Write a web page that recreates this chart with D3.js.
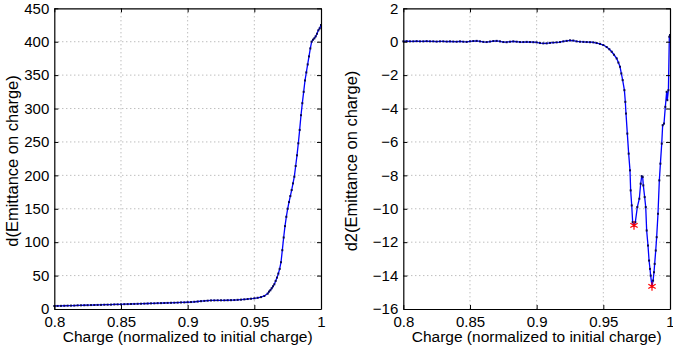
<!DOCTYPE html>
<html><head><meta charset="utf-8">
<script src="https://cdn.jsdelivr.net/npm/d3@7"></script>
<style>
html,body{margin:0;padding:0;background:#fff;}
svg{display:block;}
text{font-family:"Liberation Sans",Arial,Helvetica,sans-serif;fill:#000;}
</style></head>
<body>
<svg id="chart" width="673" height="347"></svg>
<script>
// ---------- DATA ----------
const xTicks = [0.8, 0.85, 0.9, 0.95, 1];
const xTickLabels = ["0.8", "0.85", "0.9", "0.95", "1"];
const leftYTicks = [0, 50, 100, 150, 200, 250, 300, 350, 400, 450];
const rightYTicks = [-16, -14, -12, -10, -8, -6, -4, -2, 0, 2];
const xLabel = "Charge (normalized to initial charge)";
const leftYLabel = "d(Emittance on charge)";
const rightYLabel = "d2(Emittance on charge)";

const leftCharge = [0.8,0.8025,0.805,0.8075,0.81,0.8125,0.815,0.8175,0.82,0.8225,0.825,0.8275,0.83,0.8325,0.835,0.8375,0.84,0.8425,0.845,0.8475,0.85,0.8525,0.855,0.8575,0.86,0.8625,0.865,0.8675,0.87,0.8725,0.875,0.8775,0.88,0.8825,0.885,0.8875,0.89,0.8925,0.895,0.8975,0.9,0.9025,0.905,0.9075,0.91,0.9125,0.915,0.9175,0.92,0.9225,0.925,0.9275,0.93,0.9325,0.935,0.9375,0.94,0.9425,0.945,0.9475,0.95,0.9525,0.955,0.9575,0.96,0.961,0.962,0.963,0.964,0.965,0.966,0.967,0.968,0.969,0.97,0.971,0.972,0.973,0.974,0.975,0.976,0.977,0.978,0.979,0.98,0.981,0.982,0.983,0.984,0.985,0.986,0.987,0.988,0.989,0.99,0.991,0.992,0.993,0.994,0.995,0.996,0.997,0.998,0.999,1.0];
const leftValue = [4.5,4.6,4.7,4.9,5.0,5.1,5.2,5.4,5.5,5.6,5.7,5.9,6.0,6.1,6.2,6.4,6.5,6.6,6.8,6.9,7.0,7.2,7.3,7.5,7.6,7.8,7.9,8.1,8.2,8.4,8.5,8.7,8.8,9.0,9.1,9.3,9.4,9.6,9.8,9.9,10.1,10.4,10.8,11.2,11.7,12.1,12.5,12.8,12.9,13.0,13.0,13.0,13.1,13.2,13.4,13.7,14.0,14.4,14.9,15.4,16.0,16.8,17.8,19.5,23,26,28,31,34,37,42,47,53,60,70,88,107,124,138,150,160,169,178,188,198,214,230,248,268,290,308,325,342,354,366,378,390,400,403,405,408,412,417,420,425];

const rightCharge = [0.8,0.8025,0.805,0.8075,0.81,0.8125,0.815,0.8175,0.82,0.8225,0.825,0.8275,0.83,0.8325,0.835,0.8375,0.84,0.8425,0.845,0.8475,0.85,0.8525,0.855,0.8575,0.86,0.8625,0.865,0.8675,0.87,0.8725,0.875,0.8775,0.88,0.8825,0.885,0.8875,0.89,0.8925,0.895,0.8975,0.9,0.9025,0.905,0.9075,0.91,0.9125,0.915,0.9175,0.92,0.9225,0.925,0.9275,0.93,0.9325,0.935,0.9375,0.94,0.9425,0.945,0.9475,0.95,0.9525,0.9545,0.9563,0.958,0.96,0.9613,0.9625,0.9635,0.9645,0.9658,0.9665,0.967,0.968,0.969,0.97,0.9705,0.9713,0.972,0.973,0.974,0.9755,0.977,0.978,0.9788,0.9795,0.98,0.981,0.9818,0.9825,0.9835,0.9843,0.985,0.9855,0.9865,0.9873,0.988,0.9885,0.9893,0.99,0.991,0.992,0.9928,0.9938,0.9945,0.9955,0.9965,0.9975,0.998,0.9988,0.9995,1.0];
const rightValue = [0.02,0.03,0.02,0.02,0.03,0.02,0.02,0.03,0.02,0.02,0.01,0.02,0.02,0.01,0.02,0.01,0.0,0.02,0.0,-0.01,0.02,0.04,0.05,0.02,-0.01,-0.02,0.01,0.04,0.05,0.02,-0.02,-0.03,0.0,0.02,0.0,-0.02,-0.02,-0.01,-0.02,-0.03,-0.04,-0.08,-0.1,-0.1,-0.07,-0.05,-0.04,-0.02,0.02,0.05,0.08,0.07,0.02,0.0,-0.01,-0.02,-0.03,-0.04,-0.08,-0.13,-0.2,-0.32,-0.45,-0.6,-0.78,-1.0,-1.25,-1.5,-1.9,-2.3,-2.9,-3.6,-4.3,-5.5,-6.7,-7.7,-8.9,-9.8,-10.8,-11.0,-10.8,-9.9,-9.4,-8.5,-8.05,-8.1,-8.6,-9.3,-9.9,-11.3,-12.2,-13.1,-13.6,-14.0,-14.65,-14.3,-13.8,-13.3,-12.5,-11.7,-10.3,-8.3,-7.3,-6.1,-5.0,-4.9,-3.9,-3.0,-3.5,-2.9,0.3,0.4];

const peakCharge = [0.973, 0.9865];
const peakValue = [-11.0, -14.65];

// ---------- DRAW ----------
const svg = d3.select("#chart");
const plotTop = 8.3, plotBottom = 309;

function panel(x0, x1, yDomain, yTicks, charge, value, ylab, ylabX) {
  const x = d3.scaleLinear().domain([0.8, 1]).range([x0, x1]);
  const y = d3.scaleLinear().domain(yDomain).range([plotBottom, plotTop]);
  const g = svg.append("g");

  // grid
  const grid = g.append("g").attr("stroke", "#8a8a8a").attr("stroke-width", 0.8).attr("stroke-dasharray", "1,3");
  xTicks.slice(1, -1).forEach(t => grid.append("line").attr("x1", x(t)).attr("x2", x(t)).attr("y1", plotTop).attr("y2", plotBottom));
  yTicks.slice(1, -1).forEach(t => grid.append("line").attr("x1", x0).attr("x2", x1).attr("y1", y(t)).attr("y2", y(t)));

  // data
  const line = d3.line().x((d, i) => x(charge[i])).y((d, i) => y(value[i]));
  g.append("path").datum(value).attr("d", line).attr("fill", "none").attr("stroke", "#0000ff").attr("stroke-width", 1.3);
  g.append("g").selectAll("rect").data(value).join("rect")
    .attr("x", (d, i) => x(charge[i]) - 1).attr("y", d => y(d) - 1)
    .attr("width", 2).attr("height", 2).attr("fill", "#0a0a50");

  // axes with inward ticks
  const tl = 4;
  const axB = d3.axisBottom(x).tickValues(xTicks).tickFormat((d, i) => xTickLabels[i]).tickSizeInner(-tl).tickSizeOuter(0).tickPadding(7);
  const axT = d3.axisTop(x).tickValues(xTicks).tickFormat("").tickSizeInner(-tl).tickSizeOuter(0);
  const axL = d3.axisLeft(y).tickValues(yTicks).tickFormat(d3.format("d")).tickSizeInner(-tl).tickSizeOuter(0).tickPadding(5);
  const axR = d3.axisRight(y).tickValues(yTicks).tickFormat("").tickSizeInner(-tl).tickSizeOuter(0);
  [[axB, `translate(0,${plotBottom})`], [axT, `translate(0,${plotTop})`], [axL, `translate(${x0},0)`], [axR, `translate(${x1},0)`]].forEach(([ax, tr]) => {
    const a = g.append("g").attr("transform", tr).call(ax);
    a.select(".domain").attr("stroke", "#000").attr("stroke-width", 1.2);
    a.selectAll(".tick line").attr("stroke", "#000");
    a.selectAll("text").attr("font-size", 15).attr("font-family", '"Liberation Sans",Arial,sans-serif').attr("fill", "#000");
  });

  g.append("text").attr("x", (x0 + x1) / 2).attr("y", 342).attr("text-anchor", "middle").attr("font-size", 15.5).text(xLabel);
  g.append("text").attr("transform", `translate(${ylabX},161) rotate(-90)`).attr("text-anchor", "middle").attr("font-size", 16.5).text(ylab);
  return {x, y, g};
}

panel(54.3, 321, [0, 450], leftYTicks, leftCharge, leftValue, leftYLabel, 18);
const R = panel(403.3, 670, [-16, 2], rightYTicks, rightCharge, rightValue, rightYLabel, 357);

const star = d3.symbol().type(d3.symbolAsterisk).size(50);
R.g.append("g").selectAll("path").data(peakValue).join("path")
  .attr("transform", (d, i) => `translate(${R.x(peakCharge[i])},${R.y(d)})`)
  .attr("d", star).attr("fill", "none").attr("stroke", "#ff0000").attr("stroke-width", 1.2);
</script>
</body></html>
